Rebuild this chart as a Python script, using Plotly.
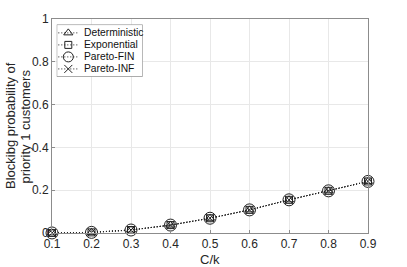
import plotly.graph_objects as go

ck = [0.1, 0.2, 0.3, 0.4, 0.5, 0.6, 0.7, 0.8, 0.9]
deterministic = [0.0003, 0.003, 0.014, 0.037, 0.069, 0.108, 0.155, 0.197, 0.241]
exponential = [0.0003, 0.003, 0.014, 0.037, 0.069, 0.108, 0.155, 0.197, 0.241]
pareto_fin = [0.0003, 0.003, 0.014, 0.037, 0.069, 0.108, 0.155, 0.197, 0.241]
pareto_inf = [0.0003, 0.003, 0.014, 0.037, 0.069, 0.108, 0.155, 0.197, 0.241]

names = ["Deterministic", "Exponential", "Pareto-FIN", "Pareto-INF"]
values = [deterministic, exponential, pareto_fin, pareto_inf]
symbols = ["triangle-up-open", "square-open", "circle-open", "x-thin-open"]
sizes = [8, 7, 12, 8]
legend_sizes = [8, 7, 10, 8]

INK = "#222222"
DASH = "1px,2px"

fig = go.Figure()
for name, vals, sym, sz in zip(names, values, symbols, sizes):
    fig.add_trace(go.Scatter(
        x=ck, y=vals, name=name, mode="lines+markers", showlegend=False,
        line=dict(color=INK, width=1, dash=DASH),
        marker=dict(symbol=sym, size=sz, color=INK, line=dict(color=INK, width=1)),
        cliponaxis=False,
    ))

# compact legend drawn on its own small subplot (pixel-like coordinates)
LX0, LX1, LY0, LY1 = 0.0, 86.0, 52.0, 0.0
rows = [8.3, 20.3, 32.3, 44.3]
for name, sym, sz, ry in zip(names, symbols, legend_sizes, rows):
    fig.add_trace(go.Scatter(
        x=[1.6, 22.6], y=[ry, ry], mode="lines", showlegend=False,
        xaxis="x2", yaxis="y2", hoverinfo="skip",
        line=dict(color=INK, width=1, dash=DASH),
    ))
    fig.add_trace(go.Scatter(
        x=[11.6], y=[ry], mode="markers", showlegend=False,
        xaxis="x2", yaxis="y2", hoverinfo="skip",
        marker=dict(symbol=sym, size=sz, color=INK, line=dict(color=INK, width=1)),
    ))
    fig.add_annotation(x=25.5, y=ry, xref="x2", yref="y2", text=name,
                       showarrow=False, xanchor="left", yanchor="middle",
                       font=dict(size=10.3, color="#111111"))

fig.add_shape(type="rect", xref="x2", yref="y2", x0=LX0, x1=LX1, y0=LY0, y1=LY1,
              line=dict(color="#808080", width=1), layer="above")

axis_common = dict(
    showgrid=True, gridcolor="#e8e8e8", gridwidth=1,
    showline=True, linecolor="#8c8c8c", linewidth=1, mirror=True,
    ticks="inside", ticklen=3, tickcolor="#8c8c8c",
    zeroline=False, automargin=False,
    tickfont=dict(family="Liberation Sans, Arial", size=12, color="#262626"),
)

fig.update_layout(
    width=407, height=267,
    margin=dict(l=52, r=39, t=19, b=34),
    paper_bgcolor="white", plot_bgcolor="white",
    font=dict(family="Liberation Sans, Arial", color="#262626"),
    xaxis=dict(range=[0.1, 0.9], tickvals=ck,
               ticktext=[str(v) for v in ck],
               **axis_common),
    yaxis=dict(range=[0, 1], tickvals=[0, 0.2, 0.4, 0.6, 0.8, 1],
               ticktext=["0", "0.2", "0.4", "0.6", "0.8", "1"],
               **axis_common),
    xaxis2=dict(domain=[0.0149, 0.287], range=[LX0, LX1],
                anchor="y2", visible=False, fixedrange=True),
    yaxis2=dict(domain=[0.7307, 0.974], range=[LY0, LY1],
                anchor="x2", visible=False, fixedrange=True),
    showlegend=False,
)

fig.add_annotation(x=0.5, y=-0.126, xref="paper", yref="paper", text="C/k",
                   showarrow=False, xanchor="center", yanchor="middle",
                   font=dict(size=13, color="#262626"))
title_lines = ["Blockibg probability of", "priority 1 customers"]
for txt, px in zip(title_lines, [-0.1329, -0.0839]):
    fig.add_annotation(x=px, y=0.5, xref="paper", yref="paper", text=txt,
                       textangle=-90, showarrow=False, xanchor="center",
                       yanchor="middle", font=dict(size=13, color="#262626"))

fig.write_html("out.html",
               config={"displayModeBar": False},
               post_script="document.body.style.margin='0';"
                           "document.body.style.overflow='hidden';")
